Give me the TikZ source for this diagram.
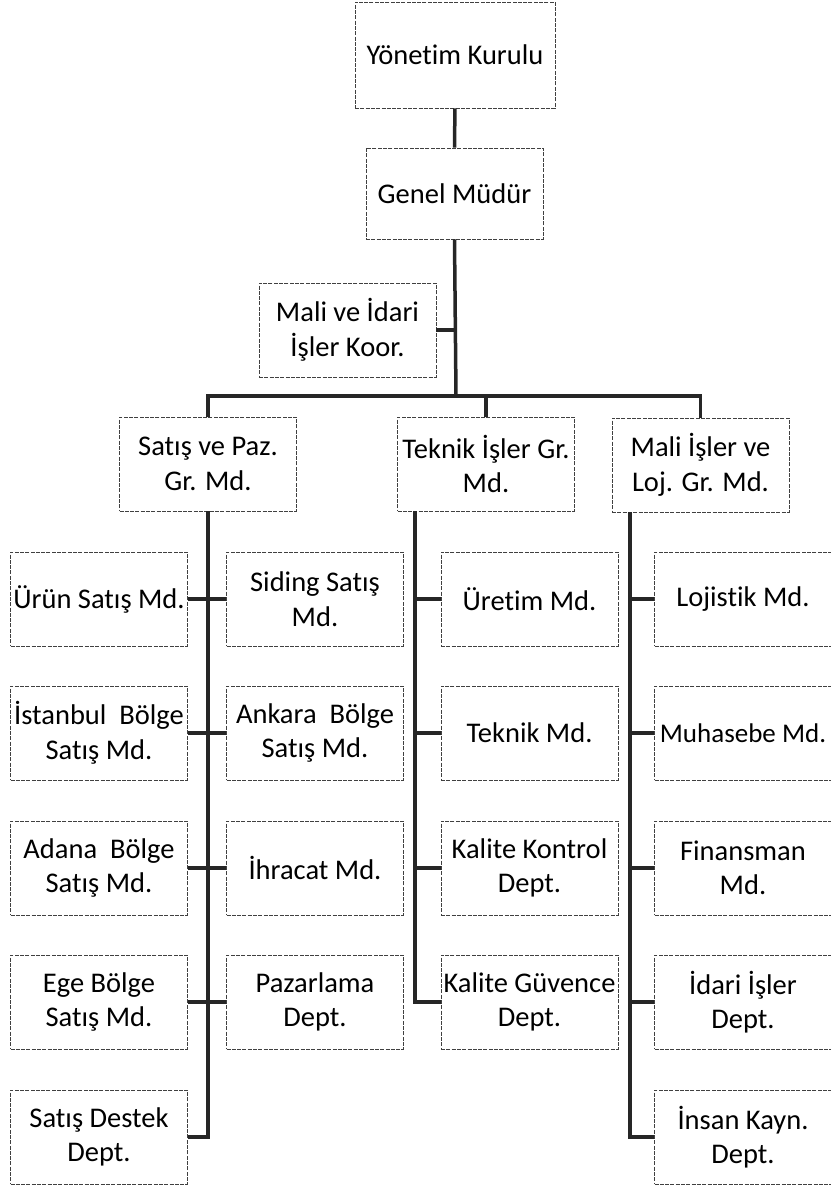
\documentclass[tikz,border=0pt]{standalone}
\usepackage{fontspec}
\setmainfont{Carlito}[Ligatures=NoCommon]
\usetikzlibrary{positioning}

\begin{document}
\begin{tikzpicture}[
  x=1pt,y=-1pt,
  unit/.style={draw=black!75, dash pattern=on 4pt off 1.3pt, line width=0.8pt, fill=white, align=center, minimum width=177pt, minimum height=94pt, inner sep=0pt, font=\fontsize{28.5}{34.5}\selectfont},
  link/.style={line width=3.5pt, black!85}
]
\useasboundingbox (0,0) rectangle (830,1188);
% top levels
\node[unit, minimum width=200pt, minimum height=106pt] (yk) at (455,55) {Yönetim Kurulu};
\node[unit, minimum height=91pt] (genel) at (454.5,193.5) {Genel Müdür};
\node[unit] (koor) at (347.5,330) {Mali ve İdari\\İşler Koor.};
\coordinate (bar) at (456,396);
\node[unit] (satis) at (208,464) {Satış ve Paz.\\Gr. Md.};
\node[unit] (teknik) at (486,464) {Teknik İşler Gr.\\Md.};
\node[unit] (mali) at (700.5,465) {Mali İşler ve\\Loj. Gr. Md.};
\coordinate (tkTop) at (415,511);
\coordinate (mlTop) at (630,512);
% satis, left column
\node[unit] (urun) at (99,599) {Ürün Satış Md.};
\node[unit] (ist) at (99,733) {İstanbul~ Bölge\\Satış Md.};
\node[unit] (adana) at (99,868) {Adana~ Bölge\\Satış Md.};
\node[unit] (ege) at (99,1002) {Ege Bölge\\Satış Md.};
\node[unit] (destek) at (99,1137) {Satış Destek\\Dept.};
% satis, right column
\node[unit] (siding) at (315,599) {Siding Satış\\Md.};
\node[unit] (ankara) at (315,733) {Ankara~ Bölge\\Satış Md.};
\node[unit] (ihracat) at (315,868) {İhracat Md.};
\node[unit] (pazar) at (315,1002) {Pazarlama\\Dept.};
% teknik
\node[unit] (uretim) at (529.5,599) {Üretim Md.};
\node[unit] (tekmd) at (529.5,733) {Teknik Md.};
\node[unit] (kkontrol) at (529.5,868) {Kalite Kontrol\\Dept.};
\node[unit] (kguvence) at (529.5,1002) {Kalite Güvence\\Dept.};
% mali
\node[unit] (lojistik) at (743,599) {Lojistik Md.};
\node[unit, font=\fontsize{27}{33}\selectfont] (muhasebe) at (743,733) {Muhasebe Md.};
\node[unit] (finans) at (743,868) {Finansman\\Md.};
\node[unit] (idari) at (743,1002) {İdari İşler\\Dept.};
\node[unit] (ik) at (743,1137) {İnsan Kayn.\\Dept.};
% connectors
\draw[link] (yk) -- (genel);
\draw[link] (genel.south) -- (bar);
\draw[link] (koor.east) -- (koor.east -| bar);
\foreach \b in {satis,teknik,mali}{\draw[link] (bar) -| (\b.north);}
\foreach \b in {urun,ist,adana,ege,destek}{\draw[link] (satis.south) |- (\b.east);}
\foreach \b in {siding,ankara,ihracat,pazar}{\draw[link] (satis.south) |- (\b.west);}
\draw[link] (teknik.south -| tkTop) -- (tkTop);
\foreach \b in {uretim,tekmd,kkontrol,kguvence}{\draw[link] (tkTop) |- (\b.west);}
\foreach \b in {lojistik,muhasebe,finans,idari,ik}{\draw[link] (mlTop) |- (\b.west);}
\end{tikzpicture}
\end{document}
